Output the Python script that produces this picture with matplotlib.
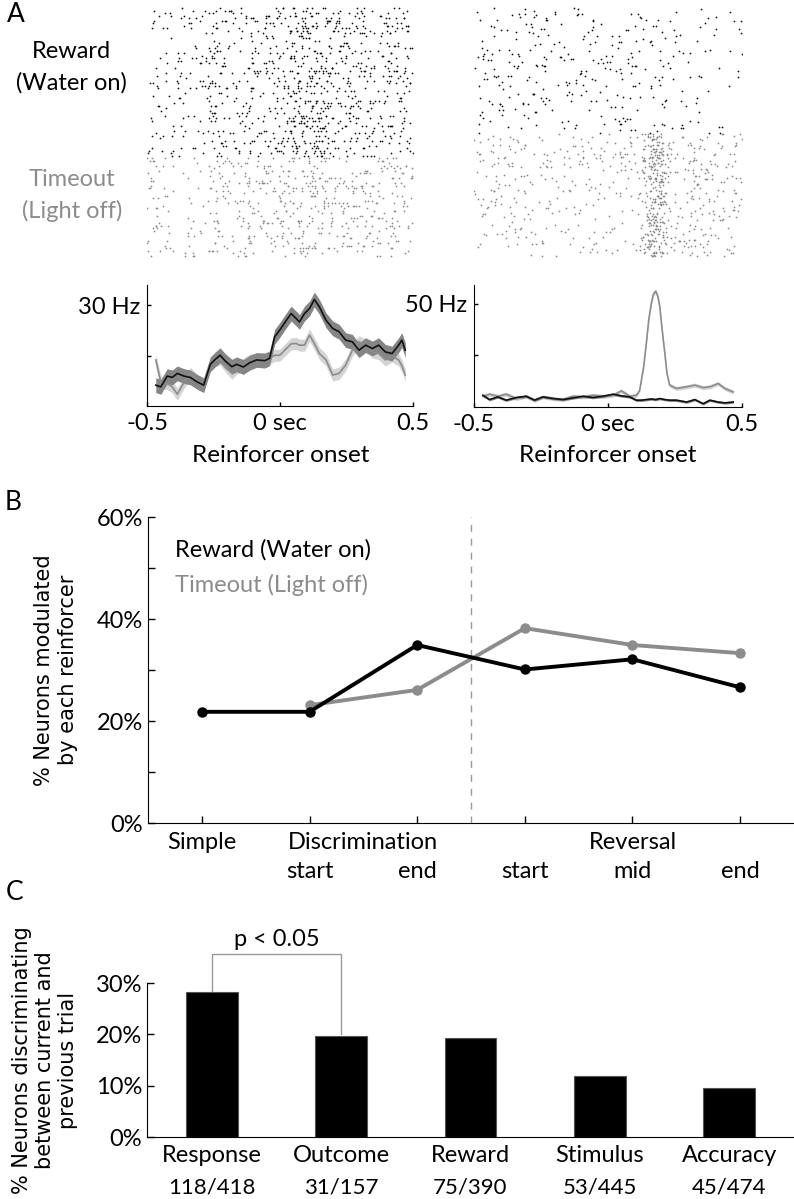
import numpy as np
import matplotlib.pyplot as plt

plt.rcParams['font.family'] = ['Lato', 'DejaVu Sans']

# ---- A: PSTHs (time in s, rate in Hz) ----
left_t = [-0.467, -0.448, -0.424, -0.405, -0.386, -0.361, -0.337, -0.312, -0.287, -0.262,
          -0.243, -0.225, -0.206, -0.181, -0.163, -0.138, -0.113, -0.088, -0.057, -0.039,
          -0.020, -0.001, 0.024, 0.042, 0.061, 0.073, 0.092, 0.111, 0.129, 0.148,
          0.173, 0.198, 0.222, 0.247, 0.272, 0.297, 0.322, 0.347, 0.371, 0.396,
          0.421, 0.446, 0.458, 0.471]
left_reward = [6.2, 5.7, 8.9, 8.5, 9.7, 8.9, 8.5, 7.2, 6.2, 12.4,
               13.9, 15.1, 13.4, 11.7, 12.4, 11.6, 12.9, 13.7, 13.5, 14.2,
               20.6, 22.6, 25.5, 27.5, 26.0, 25.0, 27.5, 29.0, 31.7, 29.5,
               25.5, 23.1, 22.1, 19.6, 19.1, 16.6, 18.1, 17.1, 18.1, 16.1,
               15.6, 18.1, 19.6, 16.6]
left_timeout = [13.7, 7.0, 6.7, 5.7, 3.5, 7.0, 9.7, 7.7, 6.2, 12.7,
                13.5, 14.0, 12.0, 9.7, 11.2, 12.4, 13.7, 13.7, 14.2, 14.2,
                15.1, 15.1, 17.1, 18.5, 18.6, 18.1, 18.1, 21.1, 18.6, 15.6,
                13.7, 9.2, 9.7, 12.2, 16.6, 19.1, 18.1, 16.1, 15.6, 13.7,
                14.9, 13.7, 12.0, 9.2]

right_reward_t = [-0.467, -0.442, -0.411, -0.380, -0.342, -0.305, -0.274, -0.243, -0.205, -0.168,
                  -0.131, -0.093, -0.056, -0.019, 0.019, 0.050, 0.081, 0.106, 0.125, 0.143,
                  0.162, 0.178, 0.193, 0.212, 0.230, 0.255, 0.293, 0.324, 0.355, 0.380,
                  0.411, 0.436, 0.467]
right_reward = [5.7, 3.6, 4.9, 3.3, 4.6, 5.2, 3.3, 4.9, 4.1, 3.6,
                4.4, 5.2, 4.6, 5.2, 6.2, 5.4, 4.9, 3.3, 3.3, 3.6,
                3.9, 3.6, 4.1, 3.6, 3.3, 3.3, 2.4, 3.6, 1.6, 3.3,
                2.4, 2.0, 2.4]
right_timeout_t = [-0.467, -0.442, -0.411, -0.380, -0.342, -0.305, -0.274, -0.243, -0.205, -0.168,
                   -0.131, -0.093, -0.056, -0.019, 0.019, 0.050, 0.081, 0.106, 0.118, 0.133,
                   0.143, 0.152, 0.162, 0.169, 0.178, 0.186, 0.193, 0.202, 0.212, 0.220,
                   0.230, 0.255, 0.293, 0.324, 0.355, 0.380, 0.411, 0.436, 0.467]
right_timeout = [5.2, 6.2, 5.2, 6.2, 4.1, 5.2, 3.3, 4.9, 4.1, 3.6,
                 5.2, 4.9, 5.7, 5.2, 5.7, 7.8, 5.2, 5.7, 8.0, 19.5,
                 30.9, 42.3, 50.5, 54.6, 56.2, 53.7, 48.9, 37.5, 26.1, 16.3,
                 10.6, 9.0, 9.8, 10.6, 9.4, 9.8, 11.4, 9.0, 7.3]

left_sem = (2.2, 1.8)     # band half-width: reward, timeout
right_sem = (0.6, 1.0)
left_trials = (60, 40)    # raster rows: reward, timeout
right_trials = (84, 82)

# ---- B ----
stage_pos = [1, 2, 3, 4, 5, 6]
reward_pct = [21.8, 21.8, 34.9, 30.1, 32.1, 26.6]
timeout_pct = [np.nan, 23.1, 26.1, 38.2, 34.9, 33.3]
stage_top = ['Simple', 'Discrimination', 'Reversal']
stage_top_pos = [1, 2.5, 5]
stage_sub = ['start', 'end', 'start', 'mid', 'end']
stage_sub_pos = [2, 3, 4, 5, 6]

# ---- C ----
c_names = ['Response', 'Outcome', 'Reward', 'Stimulus', 'Accuracy']
c_n = [118, 31, 75, 53, 45]
c_total = [418, 157, 390, 445, 474]

BLACK = '#111111'
GRAY = '#8c8c8c'
W, H = 794, 1199

fig = plt.figure(figsize=(W / 100, H / 100), dpi=100)


def px_axes(l, t, r, b):
    return fig.add_axes([l / W, 1 - b / H, (r - l) / W, (b - t) / H])


def px_text(x, y, s, **kw):
    fig.text(x / W, 1 - y / H, s, **kw)


# spike rasters, drawn from the PSTH rates above (seeded)
rng = np.random.default_rng(11)


def raster(ax, t, r, n_trials, row0, color):
    rmax = max(r)
    for k in range(n_trials):
        n = rng.poisson(rmax)
        cand = rng.uniform(-0.5, 0.5, n)
        keep = cand[rng.uniform(0, rmax, n) < np.interp(cand, t, r)]
        ax.scatter(keep, np.full(keep.size, row0 + k), s=1.6, marker='o',
                   c=color, linewidths=0)


for (l, r), (tr, yr, tt, yt), (nr, nt) in [
        ((147, 413), (left_t, left_reward, left_t, left_timeout), left_trials),
        ((474, 742), (right_reward_t, right_reward, right_timeout_t, right_timeout), right_trials)]:
    ax = px_axes(l, 7, r, 257)
    raster(ax, tr, yr, nr, 0, BLACK)
    raster(ax, tt, yt, nt, nr, '#8a8a8a')
    ax.set_xlim(-0.5, 0.5)
    ax.set_ylim(nr + nt - 0.5, -0.5)
    ax.axis('off')

px_text(16, 14, 'A', fontsize=19, ha='center', va='center')
px_text(71, 52, 'Reward', fontsize=17, ha='center', va='center')
px_text(71, 83, '(Water on)', fontsize=17, ha='center', va='center')
px_text(72, 180, 'Timeout', fontsize=17, ha='center', va='center', color=GRAY)
px_text(72, 211, '(Light off)', fontsize=17, ha='center', va='center', color=GRAY)


def psth(ax, tr, yr, sr, tt, yt, st, ymax, ytick, ylab):
    yr, yt = np.array(yr), np.array(yt)
    ax.fill_between(tt, yt - st, yt + st, color='#d4d4d4', lw=0)
    ax.fill_between(tr, yr - sr, yr + sr, color='#858585', lw=0)
    ax.plot(tt, yt, color=GRAY, lw=1.2)
    ax.plot(tr, yr, color=BLACK, lw=1.2)
    ax.set_xlim(-0.5, 0.5)
    ax.set_ylim(0, ymax)
    ax.set_xticks([-0.5, 0, 0.5], ['-0.5', '0 sec', '0.5'])
    ax.set_yticks([ytick / 2, ytick], ['', ylab])
    ax.tick_params(direction='in', length=3, width=1, labelsize=17, pad=5)
    for s in ['top', 'right']:
        ax.spines[s].set_visible(False)


ax = px_axes(147, 285, 413, 406)
psth(ax, left_t, left_reward, left_sem[0], left_t, left_timeout, left_sem[1], 36, 30, '30 Hz')
ax = px_axes(474, 285, 742, 407)
psth(ax, right_reward_t, right_reward, right_sem[0], right_timeout_t, right_timeout,
     right_sem[1], 59.2, 50, '50 Hz')
px_text(281, 455, 'Reinforcer onset', fontsize=17.5, ha='center', va='center')
px_text(608, 455, 'Reinforcer onset', fontsize=17.5, ha='center', va='center')

# ---- B ----
ax = px_axes(148, 517, 794, 823)
ax.axvline(3.5, color='#999999', lw=1, ls=(0, (5, 5)))
ax.plot(stage_pos, timeout_pct, color=GRAY, lw=2.8, marker='o', ms=6.5)
ax.plot(stage_pos, reward_pct, color='black', lw=2.8, marker='o', ms=6.5)
ax.set_xlim(0.5, 6.5)
ax.set_ylim(0, 60)
ax.set_xticks(stage_pos, [''] * 6)
ax.set_yticks(range(0, 61, 10), ['0%', '', '20%', '', '40%', '', '60%'])
ax.tick_params(direction='in', length=5, width=1, labelsize=17, pad=3.5)
for s in ['top', 'right']:
    ax.spines[s].set_visible(False)
for lab, x in zip(stage_top, stage_top_pos):
    ax.annotate(lab, (x, 0), xycoords=('data', 'axes fraction'), xytext=(0, -14),
                textcoords='offset points', ha='center', va='center', fontsize=17)
for lab, x in zip(stage_sub, stage_sub_pos):
    ax.annotate(lab, (x, 0), xycoords=('data', 'axes fraction'), xytext=(0, -35),
                textcoords='offset points', ha='center', va='center', fontsize=17)
px_text(13, 503, 'B', fontsize=19, ha='center', va='center')
px_text(175, 550, 'Reward (Water on)', fontsize=17, va='center')
px_text(175, 585, 'Timeout (Light off)', fontsize=17, va='center', color=GRAY)
px_text(56, 670, '% Neurons modulated\nby each reinforcer', fontsize=15, rotation=90,
        ha='center', va='center', family='DejaVu Sans', linespacing=1.2)

# ---- C ----
c_pct = [100 * n / t for n, t in zip(c_n, c_total)]
ax = px_axes(147, 983, 794, 1137)
xs = np.arange(len(c_names))
ax.bar(xs, c_pct, width=0.4, color='black', edgecolor='#555555', lw=0.8)
ax.plot([0, 0, 1, 1], [c_pct[0] + 0.3, 35.7, 35.7, c_pct[1] + 0.3], color='#9a9a9a',
        lw=1, clip_on=False)
ax.text(0.5, 38.5, 'p < 0.05', ha='center', va='center', fontsize=17)
ax.set_xlim(-0.5, 4.5)
ax.set_ylim(0, 30)
ax.set_xticks([])
ax.set_yticks([0, 10, 20, 30], ['0%', '10%', '20%', '30%'])
ax.tick_params(direction='in', length=5, width=1, labelsize=17, pad=3.5)
for s in ['top', 'right']:
    ax.spines[s].set_visible(False)
for i, (nm, n, t) in enumerate(zip(c_names, c_n, c_total)):
    ax.annotate(nm, (i, 0), xycoords=('data', 'axes fraction'), xytext=(0, -13),
                textcoords='offset points', ha='center', va='center', fontsize=17)
    ax.annotate(f'{n}/{t}', (i, 0), xycoords=('data', 'axes fraction'), xytext=(0, -36),
                textcoords='offset points', ha='center', va='center', fontsize=16)
px_text(15, 893, 'C', fontsize=19, ha='center', va='center')
px_text(45, 1060, '% Neurons discriminating\nbetween current and\nprevious trial',
        fontsize=15, rotation=90, ha='center', va='center', family='DejaVu Sans',
        linespacing=1.2)

fig.savefig('out.png', dpi=100)
